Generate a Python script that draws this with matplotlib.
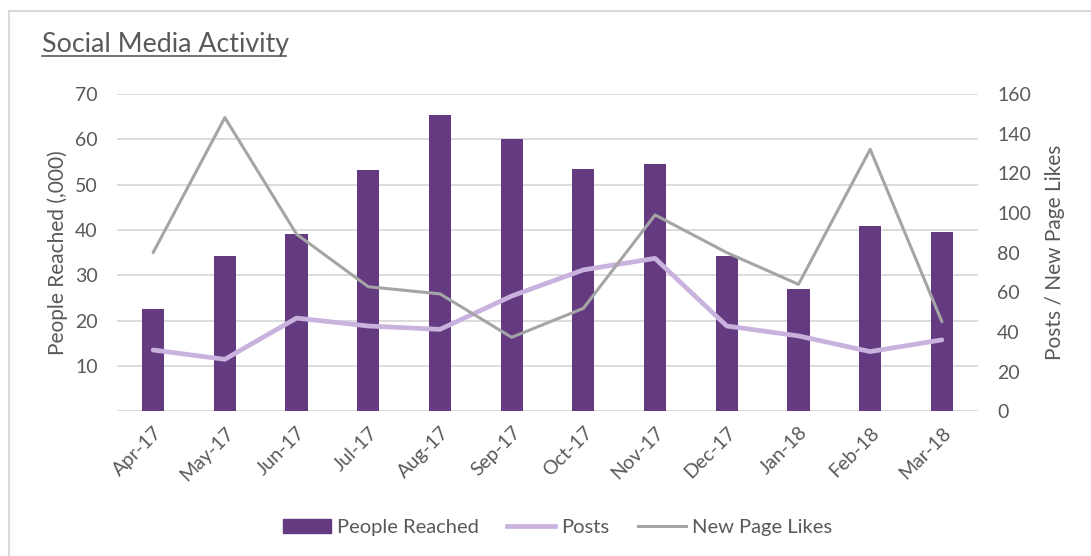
import numpy as np
import matplotlib
matplotlib.use("Agg")
import matplotlib.pyplot as plt
from matplotlib.lines import Line2D
from matplotlib.patches import Patch

months = ["Apr-17", "May-17", "Jun-17", "Jul-17", "Aug-17", "Sep-17",
          "Oct-17", "Nov-17", "Dec-17", "Jan-18", "Feb-18", "Mar-18"]
people_reached = [22.5, 34.2, 39.1, 53.2, 65.4, 60.0, 53.4, 54.5, 34.3, 26.9, 40.9, 39.5]
posts = [30.9, 26.2, 47.0, 43.0, 41.3, 58.1, 71.3, 77.1, 43.0, 38.0, 30.1, 36.0]
new_page_likes = [80.0, 148.1, 89.3, 62.8, 59.2, 37.3, 51.9, 99.0, 80.0, 64.0, 132.1, 45.2]

TEXT = "#595959"
BAR = "#643b80"
POSTS = "#c9b2de"
LIKES = "#a5a5a5"
GRID = "#d9d9d9"

plt.rcParams["font.family"] = ["Lato", "DejaVu Sans"]

fig = plt.figure(figsize=(10.91, 5.56), dpi=100)
ax = fig.add_axes([0.1075, 0.2603, 0.7887, 0.5707])
ax2 = ax.twinx()

x = np.arange(len(months))
ax.bar(x, people_reached, width=0.31, color=BAR, zorder=2)
ax.set_xlim(-0.5, len(months) - 0.5)
ax.set_ylim(0, 70)
ax.set_yticks(range(10, 71, 10))
ax.yaxis.grid(True, color=GRID, linewidth=1.3, zorder=0)
ax.axhline(0, color=GRID, linewidth=1.3, zorder=1)
ax.set_axisbelow(True)

ax2.plot(x, posts, color=POSTS, linewidth=3.4, solid_capstyle="round", zorder=3)
ax2.plot(x, new_page_likes, color=LIKES, linewidth=2.2, solid_capstyle="round", zorder=3)
ax2.set_ylim(0, 160)
ax2.set_yticks(range(0, 161, 20))

for a in (ax, ax2):
    for s in a.spines.values():
        s.set_visible(False)
    a.tick_params(length=0, colors=TEXT, labelsize=14)

ax.set_xticks(x)
ax.set_xticklabels(months, rotation=45, ha="right", rotation_mode="anchor")
ax.tick_params(axis="x", pad=9)
ax.tick_params(axis="y", pad=14)
ax2.tick_params(axis="y", pad=14)

ax.set_ylabel("People Reached (,000)", color=TEXT, fontsize=15, labelpad=5)
ax2.set_ylabel("Posts / New Page Likes", color=TEXT, fontsize=15, labelpad=10)

fig.text(0.0385, 0.9065, "Social Media Activity", color=TEXT, fontsize=19.3,
         ha="left", va="baseline")
fig.add_artist(Line2D([0.0385, 0.262], [0.8993, 0.8993], color=TEXT, linewidth=1.2))

# chart-area border (top and left edges)
fig.add_artist(Line2D([0.0078, 1.0], [0.981, 0.981], color=GRID, linewidth=1.5))
fig.add_artist(Line2D([0.0078, 0.0078], [0.0, 0.981], color=GRID, linewidth=1.5))

handles = [Patch(color=BAR),
           Line2D([0], [0], color=POSTS, linewidth=3.4),
           Line2D([0], [0], color=LIKES, linewidth=2.2)]
fig.legend(handles, ["People Reached", "Posts", "New Page Likes"],
           loc="center", bbox_to_anchor=(0.511, 0.052), ncol=3, frameon=False,
           fontsize=14.5, labelcolor=TEXT, handlelength=2.4, handletextpad=0.3,
           columnspacing=1.4)

fig.savefig("out.png", dpi=100)
